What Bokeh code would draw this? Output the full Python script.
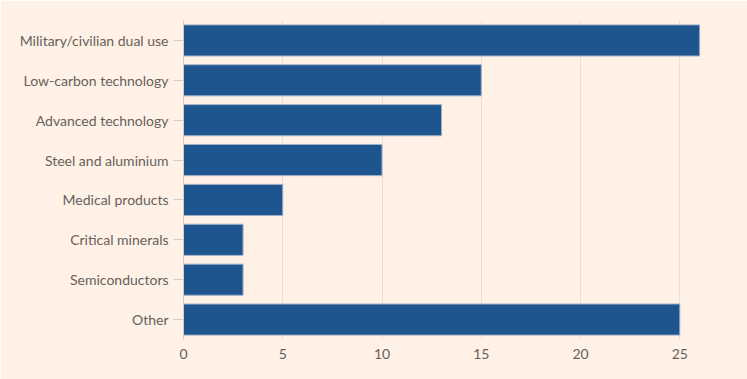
from bokeh.plotting import figure
from bokeh.models import FactorRange, Range1d, FixedTicker
from bokeh.embed import file_html
from bokeh.resources import INLINE

categories = ["Military/civilian dual use", "Low-carbon technology", "Advanced technology",
              "Steel and aluminium", "Medical products", "Critical minerals",
              "Semiconductors", "Other"]
values = [26, 15, 13, 10, 5, 3, 3, 25]
x_ticks = [0, 5, 10, 15, 20, 25]

BG = "#FFF1E5"
TXT = "#66605C"

p = figure(width=747, height=379, output_backend="svg", toolbar_location=None,
           y_range=FactorRange(factors=list(reversed(categories)), range_padding=0),
           x_range=Range1d(0, 27),
           min_border_left=183, min_border_top=20, min_border_bottom=40, min_border_right=28,
           background_fill_color=BG, border_fill_color=BG, outline_line_color=None)

p.hbar(y=categories, right=values, left=0, height=0.78,
       fill_color="#1F558E", line_color="#9FB0C8", line_width=1)

p.xgrid.ticker = FixedTicker(ticks=x_ticks)
p.xgrid.grid_line_color = "#E9DED4"
p.ygrid.grid_line_color = None

p.xaxis.ticker = FixedTicker(ticks=x_ticks)
p.xaxis.axis_line_color = None
p.xaxis.major_tick_line_color = None
p.xaxis.minor_tick_line_color = None
p.xaxis.major_label_text_color = TXT
p.xaxis.major_label_text_font = "Lato"
p.xaxis.major_label_text_font_size = "14px"
p.xaxis.major_label_standoff = 3

p.yaxis.axis_line_color = "#D5CCC4"
p.yaxis.major_tick_line_color = "#D5CCC4"
p.yaxis.major_tick_out = 10
p.yaxis.major_tick_in = 0
p.yaxis.major_label_text_color = TXT
p.yaxis.major_label_text_font = "Lato"
p.yaxis.major_label_text_font_size = "14px"
p.yaxis.major_label_standoff = 5

open("out.html", "w").write(file_html(p, INLINE))
